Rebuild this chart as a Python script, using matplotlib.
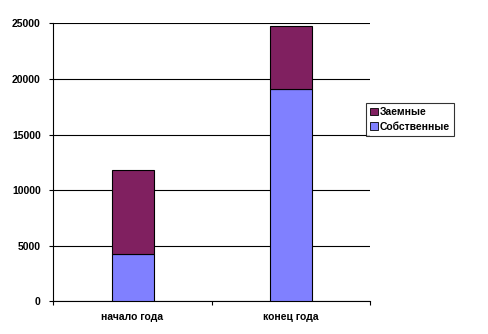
import matplotlib
matplotlib.use("Agg")
import matplotlib.pyplot as plt
from matplotlib.patches import Patch

categories = ["начало года", "конец года"]
own = [4230, 19070]
borrowed = [7550, 5690]
yticks = [0, 5000, 10000, 15000, 20000, 25000]

plt.rcParams['font.family'] = ['Liberation Sans', 'DejaVu Sans']
FS = 7.5

fig = plt.figure(figsize=(4.89, 3.34), dpi=100)
ax = fig.add_axes([0.109, 0.098, 0.648, 0.832])

x = list(range(len(categories)))
w = 0.265
ax.bar(x, own, width=w, color="#8080FF", edgecolor="black", linewidth=0.8, zorder=3, label="Собственные")
ax.bar(x, borrowed, width=w, bottom=own, color="#802060", edgecolor="black", linewidth=0.8, zorder=3, label="Заемные")

ax.set_xlim(-0.5, 1.5)
ax.set_ylim(0, 25000)
ax.set_yticks(yticks)
ax.set_yticklabels([str(v) for v in yticks], fontsize=FS, fontweight='bold')
ax.set_xticks(x)
ax.set_xticklabels(categories, fontsize=FS, fontweight='bold')
ax.tick_params(axis='x', length=0, pad=8)
ax.set_xticks([-0.5, 0.5, 1.5], minor=True)
ax.tick_params(axis='x', which='minor', length=3, width=0.8, direction='out')
ax.tick_params(axis='y', length=3, width=0.8, direction='out', pad=6)

ax.yaxis.grid(True, color='black', linewidth=0.8, zorder=0)
ax.set_axisbelow(True)
for s in ['top', 'right']:
    ax.spines[s].set_visible(False)
for s in ['left', 'bottom']:
    ax.spines[s].set_linewidth(0.8)

handles = [Patch(facecolor="#802060", edgecolor="black", linewidth=0.6),
           Patch(facecolor="#8080FF", edgecolor="black", linewidth=0.6)]
leg = fig.legend(handles, ["Заемные", "Собственные"], loc='upper left',
                 bbox_to_anchor=(366.3/489, 1 - 103.3/334), prop={'size': FS, 'weight': 'bold'},
                 frameon=True, fancybox=False, edgecolor='black', handlelength=0.7,
                 handleheight=0.7, handletextpad=0.2, borderpad=0.4, labelspacing=0.4,
                 borderaxespad=0)
leg.get_frame().set_linewidth(0.8)

fig.savefig("out.png", dpi=100)
